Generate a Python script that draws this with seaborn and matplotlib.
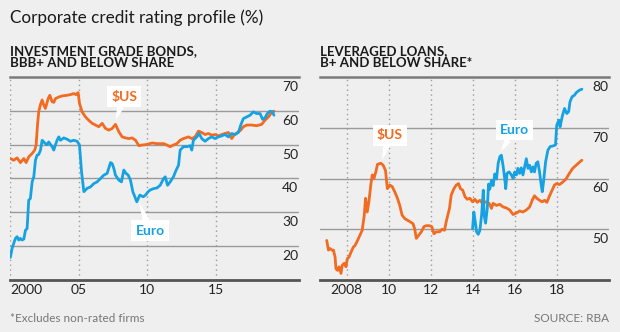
import matplotlib
matplotlib.use("Agg")
import matplotlib.pyplot as plt
import matplotlib.transforms as mtransforms
import seaborn as sns
import pandas as pd

# ---------------- data ----------------
ig_us_year = [2000.0, 2000.24, 2000.49, 2000.73, 2000.98, 2001.15, 2001.34, 2001.59, 2001.78, 2001.88,
              2001.98, 2002.07, 2002.20, 2002.32, 2002.44, 2002.56, 2002.76, 2002.88, 2003.05, 2003.17,
              2003.29, 2003.54, 2003.78, 2004.15, 2004.39, 2004.63, 2004.80, 2004.95, 2005.05, 2005.24,
              2005.49, 2005.73, 2005.98, 2006.22, 2006.46, 2006.71, 2006.95, 2007.20, 2007.44, 2007.68,
              2007.93, 2008.17, 2008.41, 2008.66, 2008.90, 2009.15, 2009.39, 2009.63, 2009.88, 2010.37,
              2010.71, 2011.2, 2011.44, 2011.68, 2011.92, 2012.17, 2012.41, 2012.65, 2013.02, 2013.26,
              2013.50, 2013.75, 2013.99, 2014.23, 2014.48, 2014.72, 2014.96, 2015.21, 2015.45, 2015.69,
              2015.94, 2016.18, 2016.35, 2016.6, 2016.84, 2017.03, 2017.28, 2017.64, 2018.0, 2018.37,
              2018.61, 2018.86, 2019.10, 2019.27]
ig_us_val = [45.9, 45.4, 46.1, 44.7, 45.9, 44.7, 46.4, 47.4, 48.4, 49.9,
             55.8, 59.7, 61.9, 63.2, 61.7, 60.7, 63.6, 64.6, 62.7, 62.5,
             63.6, 64.1, 64.4, 64.6, 64.8, 65.1, 64.8, 65.4, 62.2, 59.7,
             58.2, 57.2, 56.3, 55.8, 55.3, 56.3, 54.8, 54.3, 54.8, 56.0,
             53.8, 52.3, 52.0, 51.8, 52.0, 51.3, 49.7, 49.9, 50.0, 50.5,
             50.3, 50.3, 49.9, 49.4, 49.9, 50.3, 51.3, 51.8, 52.3, 51.8,
             52.3, 54.0, 53.6, 53.0, 53.3, 52.8, 53.0, 52.6, 53.0, 53.3,
             53.6, 51.8, 52.8, 53.6, 54.3, 55.3, 55.8, 55.8, 55.6, 56.0,
             57.2, 58.2, 59.5, 59.9]

ig_eu_year = [2000.0, 2000.12, 2000.24, 2000.37, 2000.49, 2000.61, 2000.73, 2000.85, 2000.98, 2001.10,
              2001.22, 2001.34, 2001.46, 2001.59, 2001.71, 2001.83, 2001.95, 2002.07, 2002.20, 2002.32,
              2002.44, 2002.56, 2002.68, 2002.80, 2003.05, 2003.17, 2003.29, 2003.41, 2003.54, 2003.66,
              2003.90, 2004.15, 2004.39, 2004.63, 2004.88, 2005.05, 2005.20, 2005.37, 2005.61, 2005.85,
              2006.10, 2006.34, 2006.59, 2006.83, 2007.07, 2007.32, 2007.44, 2007.56, 2007.68, 2007.93,
              2008.12, 2008.29, 2008.46, 2008.61, 2008.78, 2008.95, 2009.10, 2009.24, 2009.46, 2009.71,
              2009.88, 2010.07, 2010.22, 2010.46, 2010.71, 2010.95, 2011.2, 2011.32, 2011.49, 2011.68,
              2011.92, 2012.12, 2012.29, 2012.41, 2012.65, 2012.9, 2013.14, 2013.26, 2013.38, 2013.63,
              2013.8, 2013.99, 2014.23, 2014.48, 2014.72, 2014.96, 2015.21, 2015.45, 2015.69, 2015.94,
              2016.18, 2016.42, 2016.67, 2016.84, 2017.03, 2017.28, 2017.52, 2017.76, 2018.0, 2018.25,
              2018.44, 2018.61, 2018.78, 2018.98, 2019.17, 2019.27]
ig_eu_val = [16.7, 19.3, 20.8, 22.3, 22.8, 21.8, 22.3, 21.8, 22.1, 24.7,
             25.2, 33.6, 34.1, 39.0, 40.5, 45.4, 46.9, 47.1, 48.4, 51.3,
             50.8, 50.3, 50.0, 50.8, 49.4, 48.4, 49.9, 51.3, 52.3, 51.3,
             52.0, 51.6, 51.0, 51.3, 51.0, 49.9, 42.0, 36.1, 37.1, 37.5,
             38.5, 39.0, 40.0, 41.0, 41.5, 44.7, 44.4, 43.0, 41.0, 39.5,
             39.0, 42.5, 41.5, 41.0, 39.5, 36.1, 34.6, 33.1, 35.1, 34.6,
             35.1, 36.1, 36.6, 37.0, 37.2, 38.0, 40.0, 40.5, 38.0, 39.0,
             40.5, 42.5, 43.9, 48.4, 49.4, 49.4, 49.7, 48.4, 51.3, 52.3,
             53.3, 51.8, 51.0, 51.8, 52.3, 51.8, 52.3, 52.6, 53.0, 52.3,
             53.3, 53.0, 53.6, 55.8, 57.7, 58.2, 58.7, 59.7, 59.2, 59.2,
             57.5, 57.9, 59.2, 59.9, 59.7, 58.7]

ll_us_year = [2007.05, 2007.13, 2007.21, 2007.29, 2007.37, 2007.45, 2007.49, 2007.57, 2007.64, 2007.73,
              2007.79, 2007.89, 2007.97, 2008.03, 2008.11, 2008.21, 2008.32, 2008.40, 2008.52, 2008.63,
              2008.74, 2008.84, 2008.90, 2008.98, 2009.06, 2009.15, 2009.22, 2009.30, 2009.39, 2009.47,
              2009.63, 2009.74, 2009.85, 2009.94, 2010.06, 2010.17, 2010.29, 2010.42, 2010.53, 2010.64,
              2010.77, 2010.89, 2011.05, 2011.16, 2011.24, 2011.32, 2011.43, 2011.56, 2011.68, 2011.79,
              2011.95, 2012.06, 2012.16, 2012.27, 2012.43, 2012.54, 2012.66, 2012.74, 2012.82, 2012.90,
              2012.98, 2013.11, 2013.22, 2013.33, 2013.42, 2013.53, 2013.64, 2013.75, 2013.87, 2014.0,
              2014.11, 2014.22, 2014.35, 2014.47, 2014.63, 2014.79, 2014.90, 2014.98, 2015.14, 2015.30,
              2015.45, 2015.61, 2015.77, 2015.93, 2016.09, 2016.24, 2016.40, 2016.56, 2016.72, 2016.84,
              2016.95, 2017.06, 2017.19, 2017.32, 2017.43, 2017.54, 2017.67, 2017.79, 2017.90, 2018.01,
              2018.14, 2018.30, 2018.45, 2018.61, 2018.77, 2018.93, 2019.09, 2019.21]
ll_us_val = [47.8, 45.9, 46.2, 45.9, 45.9, 44.5, 42.2, 41.9, 42.6, 41.3,
             42.9, 43.3, 42.6, 44.2, 44.5, 45.5, 46.5, 46.8, 47.8, 48.8,
             49.8, 52.8, 56.1, 53.4, 55.4, 58.7, 60.7, 60.0, 61.3, 62.8,
             63.0, 62.6, 61.6, 58.0, 58.7, 58.4, 57.4, 56.1, 54.7, 52.8,
             52.1, 51.8, 51.4, 51.1, 50.1, 48.2, 48.8, 49.5, 50.5, 50.7,
             50.7, 50.5, 49.1, 49.5, 49.5, 50.0, 49.8, 51.4, 52.8, 54.1,
             56.7, 58.0, 58.7, 59.0, 58.0, 57.7, 56.4, 55.9, 56.1, 55.4,
             55.9, 55.3, 55.7, 55.1, 55.4, 55.1, 54.1, 55.1, 54.7, 54.9,
             54.4, 54.2, 53.8, 52.9, 53.2, 53.6, 53.4, 53.8, 54.4, 55.7,
             56.6, 56.1, 55.7, 55.4, 55.7, 55.3, 56.6, 57.7, 58.7, 59.0,
             58.8, 59.3, 59.9, 61.0, 62.0, 62.6, 63.2, 63.6]

ll_eu_year = [2014.0, 2014.06, 2014.13, 2014.19, 2014.27, 2014.35, 2014.43, 2014.51, 2014.55, 2014.62,
              2014.70, 2014.76, 2014.82, 2014.90, 2014.98, 2015.06, 2015.14, 2015.22, 2015.30, 2015.37,
              2015.45, 2015.53, 2015.58, 2015.64, 2015.74, 2015.85, 2015.93, 2016.01, 2016.09, 2016.16,
              2016.24, 2016.32, 2016.40, 2016.48, 2016.56, 2016.64, 2016.72, 2016.80, 2016.88, 2016.95,
              2017.03, 2017.11, 2017.19, 2017.27, 2017.32, 2017.38, 2017.48, 2017.59, 2017.70, 2017.82,
              2017.95, 2018.01, 2018.11, 2018.17, 2018.27, 2018.38, 2018.49, 2018.58, 2018.64, 2018.74,
              2018.85, 2018.96, 2019.09, 2019.21]
ll_eu_val = [50.1, 53.4, 51.4, 49.5, 49.0, 49.8, 52.8, 57.7, 52.8, 51.2,
             54.1, 58.9, 57.9, 59.6, 58.6, 60.9, 59.9, 63.0, 64.3, 64.6,
             62.6, 60.0, 58.0, 61.0, 61.3, 60.7, 60.0, 61.3, 60.7, 62.0,
             61.0, 62.1, 60.7, 62.3, 63.9, 62.0, 62.6, 61.3, 62.3, 61.3,
             63.0, 63.3, 61.3, 58.7, 57.4, 59.3, 63.3, 65.6, 66.3, 66.4,
             66.6, 70.5, 71.5, 70.2, 72.2, 73.8, 72.8, 73.2, 75.1, 76.1,
             76.4, 77.0, 77.4, 77.6]

left_xticks = [2000, 2005, 2010, 2015]
left_xlabels = ["2000", "05", "10", "15"]
left_yticks = [20, 30, 40, 50, 60, 70]
right_xticks = [2008, 2010, 2012, 2014, 2016, 2018]
right_xlabels = ["2008", "10", "12", "14", "16", "18"]
right_yticks = [50, 60, 70, 80]

# ---------------- style ----------------
BG = "#efefef"
ORANGE = "#f36a21"
BLUE = "#16a2e2"
sns.set_theme(style="white")
plt.rcParams["font.family"] = ["Lato", "DejaVu Sans"]

fig = plt.figure(figsize=(6.2, 3.32), dpi=100, facecolor=BG)
axL = fig.add_axes([10 / 620, 52 / 332, 289 / 620, 203 / 332])
axR = fig.add_axes([320 / 620, 52 / 332, 289 / 620, 203 / 332])

df_l_us = pd.DataFrame({"year": ig_us_year, "value": ig_us_val})
df_l_eu = pd.DataFrame({"year": ig_eu_year, "value": ig_eu_val})
df_r_us = pd.DataFrame({"year": ll_us_year, "value": ll_us_val})
df_r_eu = pd.DataFrame({"year": ll_eu_year, "value": ll_eu_val})


def style_axes(ax, xlim, ylim, xticks, xlabels, yticks):
    ax.set_facecolor(BG)
    ax.set_xlim(*xlim)
    ax.set_ylim(*ylim)
    for t in yticks[:-1]:
        ax.axhline(t, color="#9a9a9a", lw=1.0, zorder=1)
    for t in xticks:
        ax.axvline(t, color="#9a9a9a", lw=1.0, ls=(0, (1, 2.5)), zorder=1)
    for s in ["left", "right"]:
        ax.spines[s].set_visible(False)
    ax.spines["top"].set_color("#7a7a7a")
    ax.spines["top"].set_linewidth(1.8)
    ax.spines["bottom"].set_color("#555555")
    ax.spines["bottom"].set_linewidth(2.0)
    ax.set_yticks([])
    ax.set_xticks(xticks)
    ax.set_xticklabels(xlabels)
    ax.tick_params(axis="x", length=0, pad=3, labelsize=10, labelcolor="#222222")
    ax.set_xlabel("")
    ax.set_ylabel("")
    tr = mtransforms.offset_copy(ax.get_yaxis_transform(), fig=fig, x=0, y=-4, units="dots")
    for t in yticks:
        ax.text(0.997, t, str(t), transform=tr, ha="right", va="top",
                fontsize=10, color="#222222")


sns.lineplot(data=df_l_us, x="year", y="value", ax=axL, color=ORANGE, lw=2.0, zorder=3)
sns.lineplot(data=df_l_eu, x="year", y="value", ax=axL, color=BLUE, lw=2.0, zorder=4)
style_axes(axL, (1999.97, 2021.1), (10, 70), left_xticks, left_xlabels, left_yticks)
axL.get_xticklabels()[0].set_ha("left")

sns.lineplot(data=df_r_us, x="year", y="value", ax=axR, color=ORANGE, lw=2.0, zorder=3)
sns.lineplot(data=df_r_eu, x="year", y="value", ax=axR, color=BLUE, lw=2.0, zorder=4)
style_axes(axR, (2006.73, 2020.5), (40, 80), right_xticks, right_xlabels, right_yticks)


def label(ax, text, xy, xytext, color):
    ax.annotate(text, xy=xy, xytext=xytext, ha="center", va="center",
                fontsize=10, fontweight="bold", color=color, zorder=6,
                bbox=dict(boxstyle="square,pad=0.3", fc="white", ec="none"),
                arrowprops=dict(arrowstyle="wedge,tail_width=0.5,shrink_factor=0.5",
                                fc="white", ec="none", shrinkA=0, shrinkB=1))


label(axL, "$US", (2007.66, 56.8), (2008.32, 64.2), ORANGE)
label(axL, "Euro", (2009.35, 33.6), (2010.22, 24.6), BLUE)
label(axR, "$US", (2009.67, 63.4), (2010.06, 68.5), ORANGE)
label(axR, "Euro", (2015.3, 65.0), (2015.99, 69.6), BLUE)

# ---------------- text ----------------
fig.text(10 / 620, 1 - 18 / 332, "Corporate credit rating profile (%)", ha="left", va="center",
         fontsize=12.3, color="#1a1a1a")
fig.text(10 / 620, 1 - 57 / 332, "INVESTMENT GRADE BONDS,\nBBB+ AND BELOW SHARE", ha="left",
         va="center", fontsize=9.5, fontweight="bold", color="#1a1a1a", linespacing=1.05)
fig.text(320 / 620, 1 - 57 / 332, "LEVERAGED LOANS,\nB+ AND BELOW SHARE*", ha="left",
         va="center", fontsize=9.5, fontweight="bold", color="#1a1a1a", linespacing=1.05)
fig.text(10 / 620, 1 - 318 / 332, "*Excludes non-rated firms", ha="left", va="center",
         fontsize=8.5, color="#777777")
fig.text(609 / 620, 1 - 318 / 332, "SOURCE: RBA", ha="right", va="center",
         fontsize=8.5, color="#777777")

fig.savefig("out.png", dpi=100, facecolor=BG)
